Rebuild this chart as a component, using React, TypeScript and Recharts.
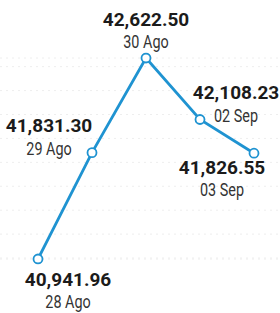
import { LineChart, Line, XAxis, YAxis, CartesianGrid, LabelList } from "recharts"

const dates = ["28 Ago", "29 Ago", "30 Ago", "02 Sep", "03 Sep"]
const closes = [40941.96, 41831.3, 42622.5, 42108.23, 41826.55]
const gridTicks = [40950, 41150, 41350, 41550, 41750, 41950, 42150, 42350, 42550]

// where each label pair sits relative to its point: [dx, dy of the value line]
const labelOffsets: [number, number][] = [
  [30, 20],
  [-43, -27],
  [0, -39],
  [36, -27],
  [-32, 14],
]

const chartData = dates.map((d, i) => ({ date: d, close: closes[i] }))

const fmt = (v: number) =>
  v.toLocaleString("en-US", { minimumFractionDigits: 2, maximumFractionDigits: 2 })

if (typeof document !== "undefined") document.body.style.margin = "0"

interface PointLabelProps {
  x?: number
  y?: number
  index?: number
}

function PointLabel({ x = 0, y = 0, index = 0 }: PointLabelProps) {
  const [dx, dy] = labelOffsets[index]
  const cx = x + dx
  return (
    <g textAnchor="middle" dominantBaseline="central" fontFamily="Roboto, sans-serif">
      <text x={cx} y={y + dy} fontSize={19} fontWeight={700} fill="#1b1b1b">
        {fmt(closes[index])}
      </text>
      {/* the date line is set in a condensed face */}
      <text
        x={cx}
        y={y + dy + 23}
        fontSize={18}
        fill="#333"
        transform={`translate(${cx} 0) scale(0.8 1) translate(${-cx} 0)`}
      >
        {dates[index]}
      </text>
    </g>
  )
}

export default function App() {
  return (
    <div style={{ width: 280, height: 313, background: "#fff" }}>
      <LineChart
        width={280}
        height={313}
        data={chartData}
        margin={{ top: 58, right: 0, bottom: 54, left: 0 }}
      >
        <CartesianGrid stroke="#eeeeee" strokeDasharray="2 4" vertical={false} />
        <XAxis dataKey="date" hide padding={{ left: 38, right: 26 }} />
        <YAxis
          hide
          type="number"
          domain={[40941.96, 42622.5]}
          allowDataOverflow
          ticks={gridTicks}
        />
        <Line
          type="linear"
          dataKey="close"
          stroke="#1f93d1"
          strokeWidth={2.8}
          dot={{ r: 4.5, fill: "#fff", stroke: "#1f93d1", strokeWidth: 1.8, clipDot: false }}
          isAnimationActive={false}
        >
          <LabelList dataKey="close" content={<PointLabel />} />
        </Line>
      </LineChart>
    </div>
  )
}
